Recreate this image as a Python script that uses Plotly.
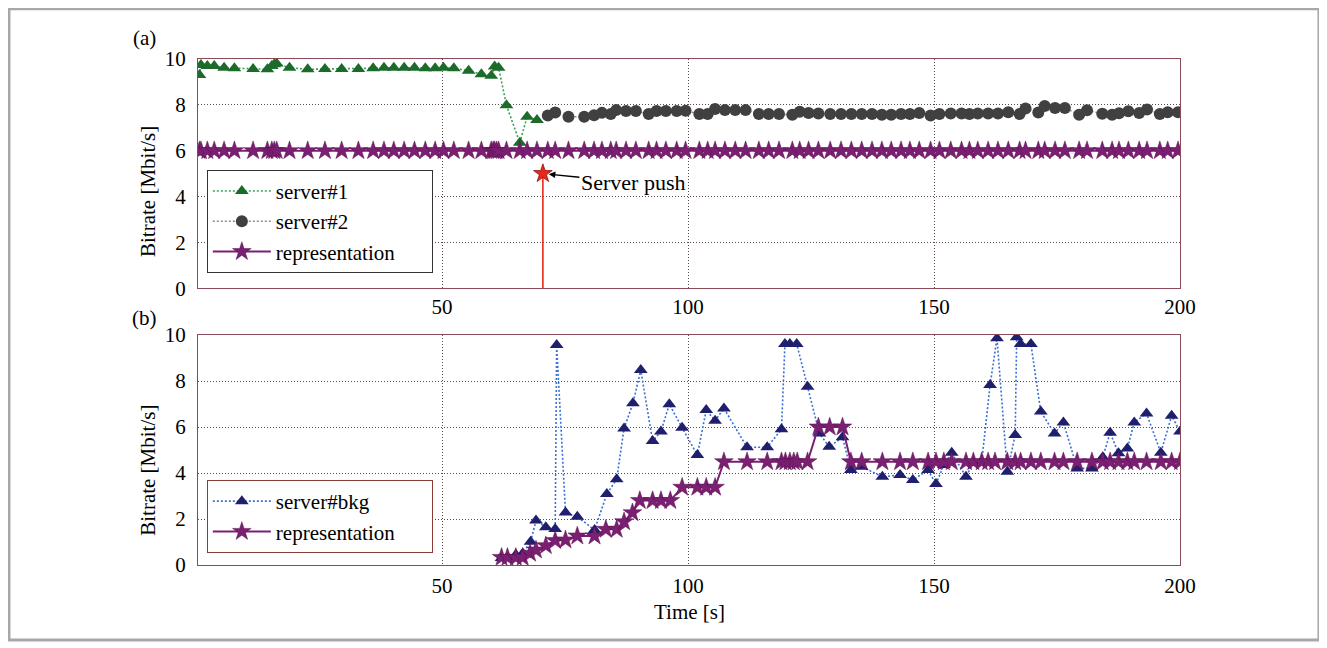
import plotly.graph_objects as go

# ---------------- data ----------------
server1_x = [0.7, 1, 2.3, 3.7, 5.7, 7.8, 11.6, 14.5, 15.4, 15.9, 16.4, 19, 22.7, 26.2, 29.6, 33, 36, 38.2,
             40.2, 42.3, 44.4, 46.6, 48.6, 50.3, 52.4, 55.4, 58, 60, 60.7, 61.5, 63.1, 65.8, 67.3, 69.3]
server1_y = [9.3, 9.74, 9.7, 9.7, 9.62, 9.6, 9.56, 9.55, 9.7, 9.77, 9.8, 9.62, 9.55, 9.56, 9.56, 9.56, 9.6, 9.62,
             9.62, 9.62, 9.62, 9.6, 9.6, 9.62, 9.6, 9.49, 9.34, 9.27, 9.67, 9.62, 7.98, 6.35, 7.48, 7.34]

server2_x = [71.5, 73, 75.7, 78.9, 80.9, 82.5, 84.3, 85.4, 87.4, 89.4, 92, 93.6, 95.5, 97.7, 99.5, 102.3, 104,
             105.5, 107.5, 109.6, 111.7, 114.4, 116.4, 118.5, 121.2, 122.7, 124.5, 126.5, 128.9, 131.1, 133.2,
             135.3, 137.4, 139.4, 141.3, 143.3, 145.1, 147, 149.3, 151.1, 153.4, 155.6, 157.2, 158.9, 161, 163,
             165.1, 167.4, 168.6, 171.2, 172.5, 174.6, 176.6, 179.5, 181.1, 184.2, 186.2, 187.6, 189.5, 191.7,
             193.3, 195.9, 197.5, 199.6]
server2_y = [7.54, 7.67, 7.48, 7.48, 7.55, 7.65, 7.6, 7.77, 7.73, 7.73, 7.6, 7.73, 7.73, 7.73, 7.74, 7.6, 7.6,
             7.82, 7.77, 7.77, 7.77, 7.6, 7.6, 7.6, 7.57, 7.7, 7.64, 7.62, 7.6, 7.6, 7.6,
             7.6, 7.6, 7.57, 7.57, 7.6, 7.6, 7.64, 7.54, 7.6, 7.62, 7.62, 7.6, 7.62, 7.62, 7.62,
             7.68, 7.6, 7.84, 7.67, 7.95, 7.86, 7.86, 7.57, 7.76, 7.61, 7.57, 7.63, 7.72, 7.64,
             7.8, 7.6, 7.68, 7.68]

rep_a_x = [0.7, 1, 2.3, 3.7, 5.7, 7.8, 11.6, 14.5, 15.4, 15.9, 16.4, 19, 22.7, 26.2, 29.6, 33, 36, 38.2, 40.2,
           42.3, 44.4, 46.6, 48.6, 50.3, 52.4, 55.4, 58, 60, 60.4, 60.7, 61.1, 61.5, 63.1, 65.8, 67.3, 69.3,
           71.5, 73, 75.7, 78.9, 80.9, 82.5, 84.3, 85.4, 87.4, 89.4, 92, 93.6, 95.5, 97.7, 99.5, 102.3, 104,
           105.5, 107.5, 109.6, 111.7, 114.4, 116.4, 118.5, 121.2, 122.7, 124.5, 126.5, 128.9, 131.1, 133.2,
           135.3, 137.4, 139.4, 141.3, 143.3, 145.1, 147, 149.3, 151.1, 153.4, 155.6, 157.2, 158.9, 161, 163,
           165.1, 167.4, 168.6, 171.2, 172.5, 174.6, 176.6, 179.5, 181.1, 184.2, 186.2, 187.6, 189.5, 191.7,
           193.3, 195.9, 197.5, 199.6]
rep_a_y = [6.0, 6.0, 6.0, 6.0, 6.0, 6.0, 6.0, 6.0, 6.0, 6.0,
           6.0, 6.0, 6.0, 6.0, 6.0, 6.0, 6.0, 6.0, 6.0, 6.0,
           6.0, 6.0, 6.0, 6.0, 6.0, 6.0, 6.0, 6.0, 6.0, 6.0,
           6.0, 6.0, 6.0, 6.0, 6.0, 6.0, 6.0, 6.0, 6.0, 6.0,
           6.0, 6.0, 6.0, 6.0, 6.0, 6.0, 6.0, 6.0, 6.0, 6.0,
           6.0, 6.0, 6.0, 6.0, 6.0, 6.0, 6.0, 6.0, 6.0, 6.0,
           6.0, 6.0, 6.0, 6.0, 6.0, 6.0, 6.0, 6.0, 6.0, 6.0,
           6.0, 6.0, 6.0, 6.0, 6.0, 6.0, 6.0, 6.0, 6.0, 6.0,
           6.0, 6.0, 6.0, 6.0, 6.0, 6.0, 6.0, 6.0, 6.0, 6.0,
           6.0, 6.0, 6.0, 6.0, 6.0, 6.0, 6.0, 6.0, 6.0, 6.0]

push_x = [70.5, 70.5]
push_y = [0, 5]

bkg_x = [62.1, 63.3, 65, 66.4, 68, 69.1, 71.1, 73, 73.3, 75.1, 77.5, 81, 83.5, 85.5, 87, 88.8, 90.4, 92.8,
         94.5, 96.2, 98.8, 101.9, 103.7, 105.5, 107.3, 112, 116.1, 119, 119.7, 120.7, 122.1, 124.3, 126.7,
         128.7, 131.4, 133.1, 135.3, 139.5, 143.1, 145.7, 148.8, 150.4, 152, 153.6, 156.5, 158, 159.7, 161.4,
         162.8, 164.9, 166.5, 166.8, 167.6, 169.7, 171.7, 174.5, 176.3, 179.1, 182.1, 184.3, 185.8, 187.5,
         189.3, 190.7, 193.2, 196.1, 198.3, 200]
bkg_y = [0.3, 0.35, 0.45, 0.5, 1.01, 1.93, 1.64, 1.57, 9.57, 2.28, 2.1, 1.52, 3.09, 3.73, 5.94, 7.03, 8.48, 5.39,
         5.8, 6.99, 5.97, 4.78, 6.74, 6.27, 6.81, 5.12, 5.12, 5.9, 9.61, 9.61, 9.61, 7.75, 5.72,
         5.14, 5.55, 4.13, 4.27, 3.84, 3.91, 3.7, 4.13, 3.52, 4.35, 4.88, 3.84, 4.45, 4.5, 7.83,
         9.86, 4.06, 5.65, 9.9, 9.61, 9.61, 6.67, 5.72, 6.2, 4.2, 4.2, 4.68, 5.75, 4.86,
         5.07, 6.2, 6.59, 4.88, 6.49, 5.8]

rep_b_x = [62.1, 63.3, 65, 66.4, 67.9, 69.1, 71.1, 73, 75.1, 77.5, 81, 83.3, 85.5, 87, 88.7, 90.2, 92.8, 94.5,
           96.4, 98.8, 101.9, 103.7, 105.5, 107.3, 112, 116.1, 119, 119.8, 120.7, 121.5, 122.2, 124.3, 126.5,
           128.8, 131.4, 133.1, 135.3, 139.5, 143.1, 145.7, 148.8, 150.4, 152, 153.6, 156.5, 158, 159.7, 161,
           162.4, 164.9, 166.5, 167.6, 169.7, 171.7, 174.5, 176.3, 179.1, 182.1, 184.3, 185.8, 187.5, 189.3,
           190.7, 193.2, 196.1, 198.3, 200]
rep_b_y = [0.33, 0.33, 0.33, 0.33, 0.51, 0.65, 0.84, 1.06, 1.09, 1.26, 1.26, 1.55, 1.55, 1.88, 2.27, 2.8, 2.8, 2.8,
           2.8, 3.38, 3.38, 3.38, 3.38, 4.49, 4.49, 4.49, 4.49, 4.49, 4.49, 4.49, 4.49, 4.49, 6.0,
           6.0, 6.0, 4.49, 4.49, 4.49, 4.49, 4.49, 4.49, 4.49, 4.49, 4.49, 4.49, 4.49, 4.49, 4.49,
           4.49, 4.49, 4.49, 4.49, 4.49, 4.49, 4.49, 4.49, 4.49, 4.49, 4.49, 4.49, 4.49, 4.49,
           4.49, 4.49, 4.49, 4.49, 4.49]

x_ticks = [50, 100, 150, 200]
y_ticks = [0, 2, 4, 6, 8, 10]

# ---------------- styling ----------------
SERIF = "Liberation Serif"
FS = 21
GRID = "#5a4a50"
FRAME = "#8a4a58"
PURPLE = "#7b1f72"
NAVY = "#1f1f6e"
RED = "#e8281a"
NB = "\u00a0"

fig = go.Figure()

fig.add_trace(go.Scatter(
    x=server1_x, y=server1_y, mode="lines+markers", name="server#1",
    line=dict(color="#35a356", width=1.6, dash="2px,2px"),
    marker=dict(symbol="triangle-up", size=12, color="#1d6b2b"),
    xaxis="x", yaxis="y", legend="legend", legendgroup="a1"))
fig.add_trace(go.Scatter(
    x=server2_x, y=server2_y, mode="lines+markers", name="server#2",
    line=dict(color="#8a8a8a", width=1.4, dash="2px,2px"),
    marker=dict(symbol="circle", size=12, color="#404040"),
    xaxis="x", yaxis="y", legend="legend", legendgroup="a2"))
fig.add_trace(go.Scatter(
    x=rep_a_x, y=rep_a_y, mode="lines+markers", name="representation" + NB * 6,
    line=dict(color=PURPLE, width=2),
    marker=dict(symbol="star", size=14, color=PURPLE, line=dict(color="#5a1050", width=0.5)),
    xaxis="x", yaxis="y", legend="legend", legendgroup="a3"))
fig.add_trace(go.Scatter(
    x=push_x, y=push_y, mode="lines", showlegend=False,
    line=dict(color=RED, width=1.6),
    xaxis="x", yaxis="y"))
fig.add_trace(go.Scatter(
    x=push_x[1:], y=push_y[1:], mode="markers", showlegend=False,
    marker=dict(symbol="star", size=14, color=RED, opacity=1, line=dict(color="#8a1810", width=0.8)),
    xaxis="x", yaxis="y"))

fig.add_trace(go.Scatter(
    x=bkg_x, y=bkg_y, mode="lines+markers", name="server#bkg",
    line=dict(color="#3b6fd1", width=1.6, dash="2px,2px"),
    marker=dict(symbol="triangle-up", size=12, color=NAVY),
    xaxis="x2", yaxis="y2", legend="legend2", legendgroup="b1"))
fig.add_trace(go.Scatter(
    x=rep_b_x, y=rep_b_y, mode="lines+markers", name="representation" + NB * 6,
    line=dict(color=PURPLE, width=2),
    marker=dict(symbol="star", size=14, color=PURPLE, line=dict(color="#5a1050", width=0.5)),
    xaxis="x2", yaxis="y2", legend="legend2", legendgroup="b2"))

axis_common = dict(
    showgrid=True, gridcolor=GRID, griddash="1px,2px", gridwidth=1,
    showline=True, linecolor=FRAME, linewidth=1, mirror=True,
    ticks="", zeroline=False,
    tickfont=dict(family=SERIF, size=FS, color="black"),
)

fig.update_layout(
    width=1327, height=648,
    margin=dict(l=190, r=155, t=51, b=91),
    paper_bgcolor="white", plot_bgcolor="white",
    font=dict(family=SERIF, size=FS, color="black"),
    xaxis=dict(domain=[0, 1], anchor="y", range=[0.4, 200], tickvals=x_ticks,
               ticklabelstandoff=0, **axis_common),
    yaxis=dict(domain=[0.547, 1], anchor="x", range=[0, 10], tickvals=y_ticks,
               ticklabelstandoff=7, **axis_common),
    xaxis2=dict(domain=[0, 1], anchor="y2", range=[0.4, 200], tickvals=x_ticks,
                ticklabelstandoff=2, **axis_common),
    yaxis2=dict(domain=[0, 0.4545], anchor="x2", range=[0, 10], tickvals=y_ticks,
                ticklabelstandoff=7, **axis_common),
    legend=dict(x=0.009, y=0.781, xanchor="left", yanchor="top", itemwidth=58,
                bgcolor="white", bordercolor="#333333", borderwidth=1,
                font=dict(family=SERIF, size=FS, color="black"), tracegroupgap=0),
    legend2=dict(x=0.009, y=0.168, xanchor="left", yanchor="top", itemwidth=58,
                 bgcolor="white", bordercolor="#8b3a3a", borderwidth=1,
                 font=dict(family=SERIF, size=FS, color="black"), tracegroupgap=0),
    showlegend=True,
)

# outer frame of the figure
fig.add_shape(type="rect", xref="paper", yref="paper",
              x0=-0.1925, x1=1.1415, y0=-0.148, y1=1.0995,
              line=dict(color="#a8a8a8", width=3), layer="below")

ann = [
    dict(text="(a)", x=-0.054, y=1.041),
    dict(text="(b)", x=-0.054, y=0.488),
    dict(text="Bitrate [Mbit/s]", x=-0.051, y=0.739, textangle=-90),
    dict(text="Bitrate [Mbit/s]", x=-0.051, y=0.188, textangle=-90),
    dict(text="Time [s]", x=0.5, y=-0.093),
]
for a in ann:
    fig.add_annotation(xref="paper", yref="paper", showarrow=False,
                       xanchor="center", yanchor="middle",
                       font=dict(family=SERIF, size=FS, color="black"), **a)

fig.add_annotation(x=push_x[1], y=push_y[1], xref="x", yref="y",
                   text="Server push", showarrow=True, arrowhead=2, arrowsize=1,
                   arrowwidth=1.3, arrowcolor="black", ax=90, ay=9, standoff=6,
                   font=dict(family=SERIF, size=22, color="black"))

fig.write_html("out.html")
